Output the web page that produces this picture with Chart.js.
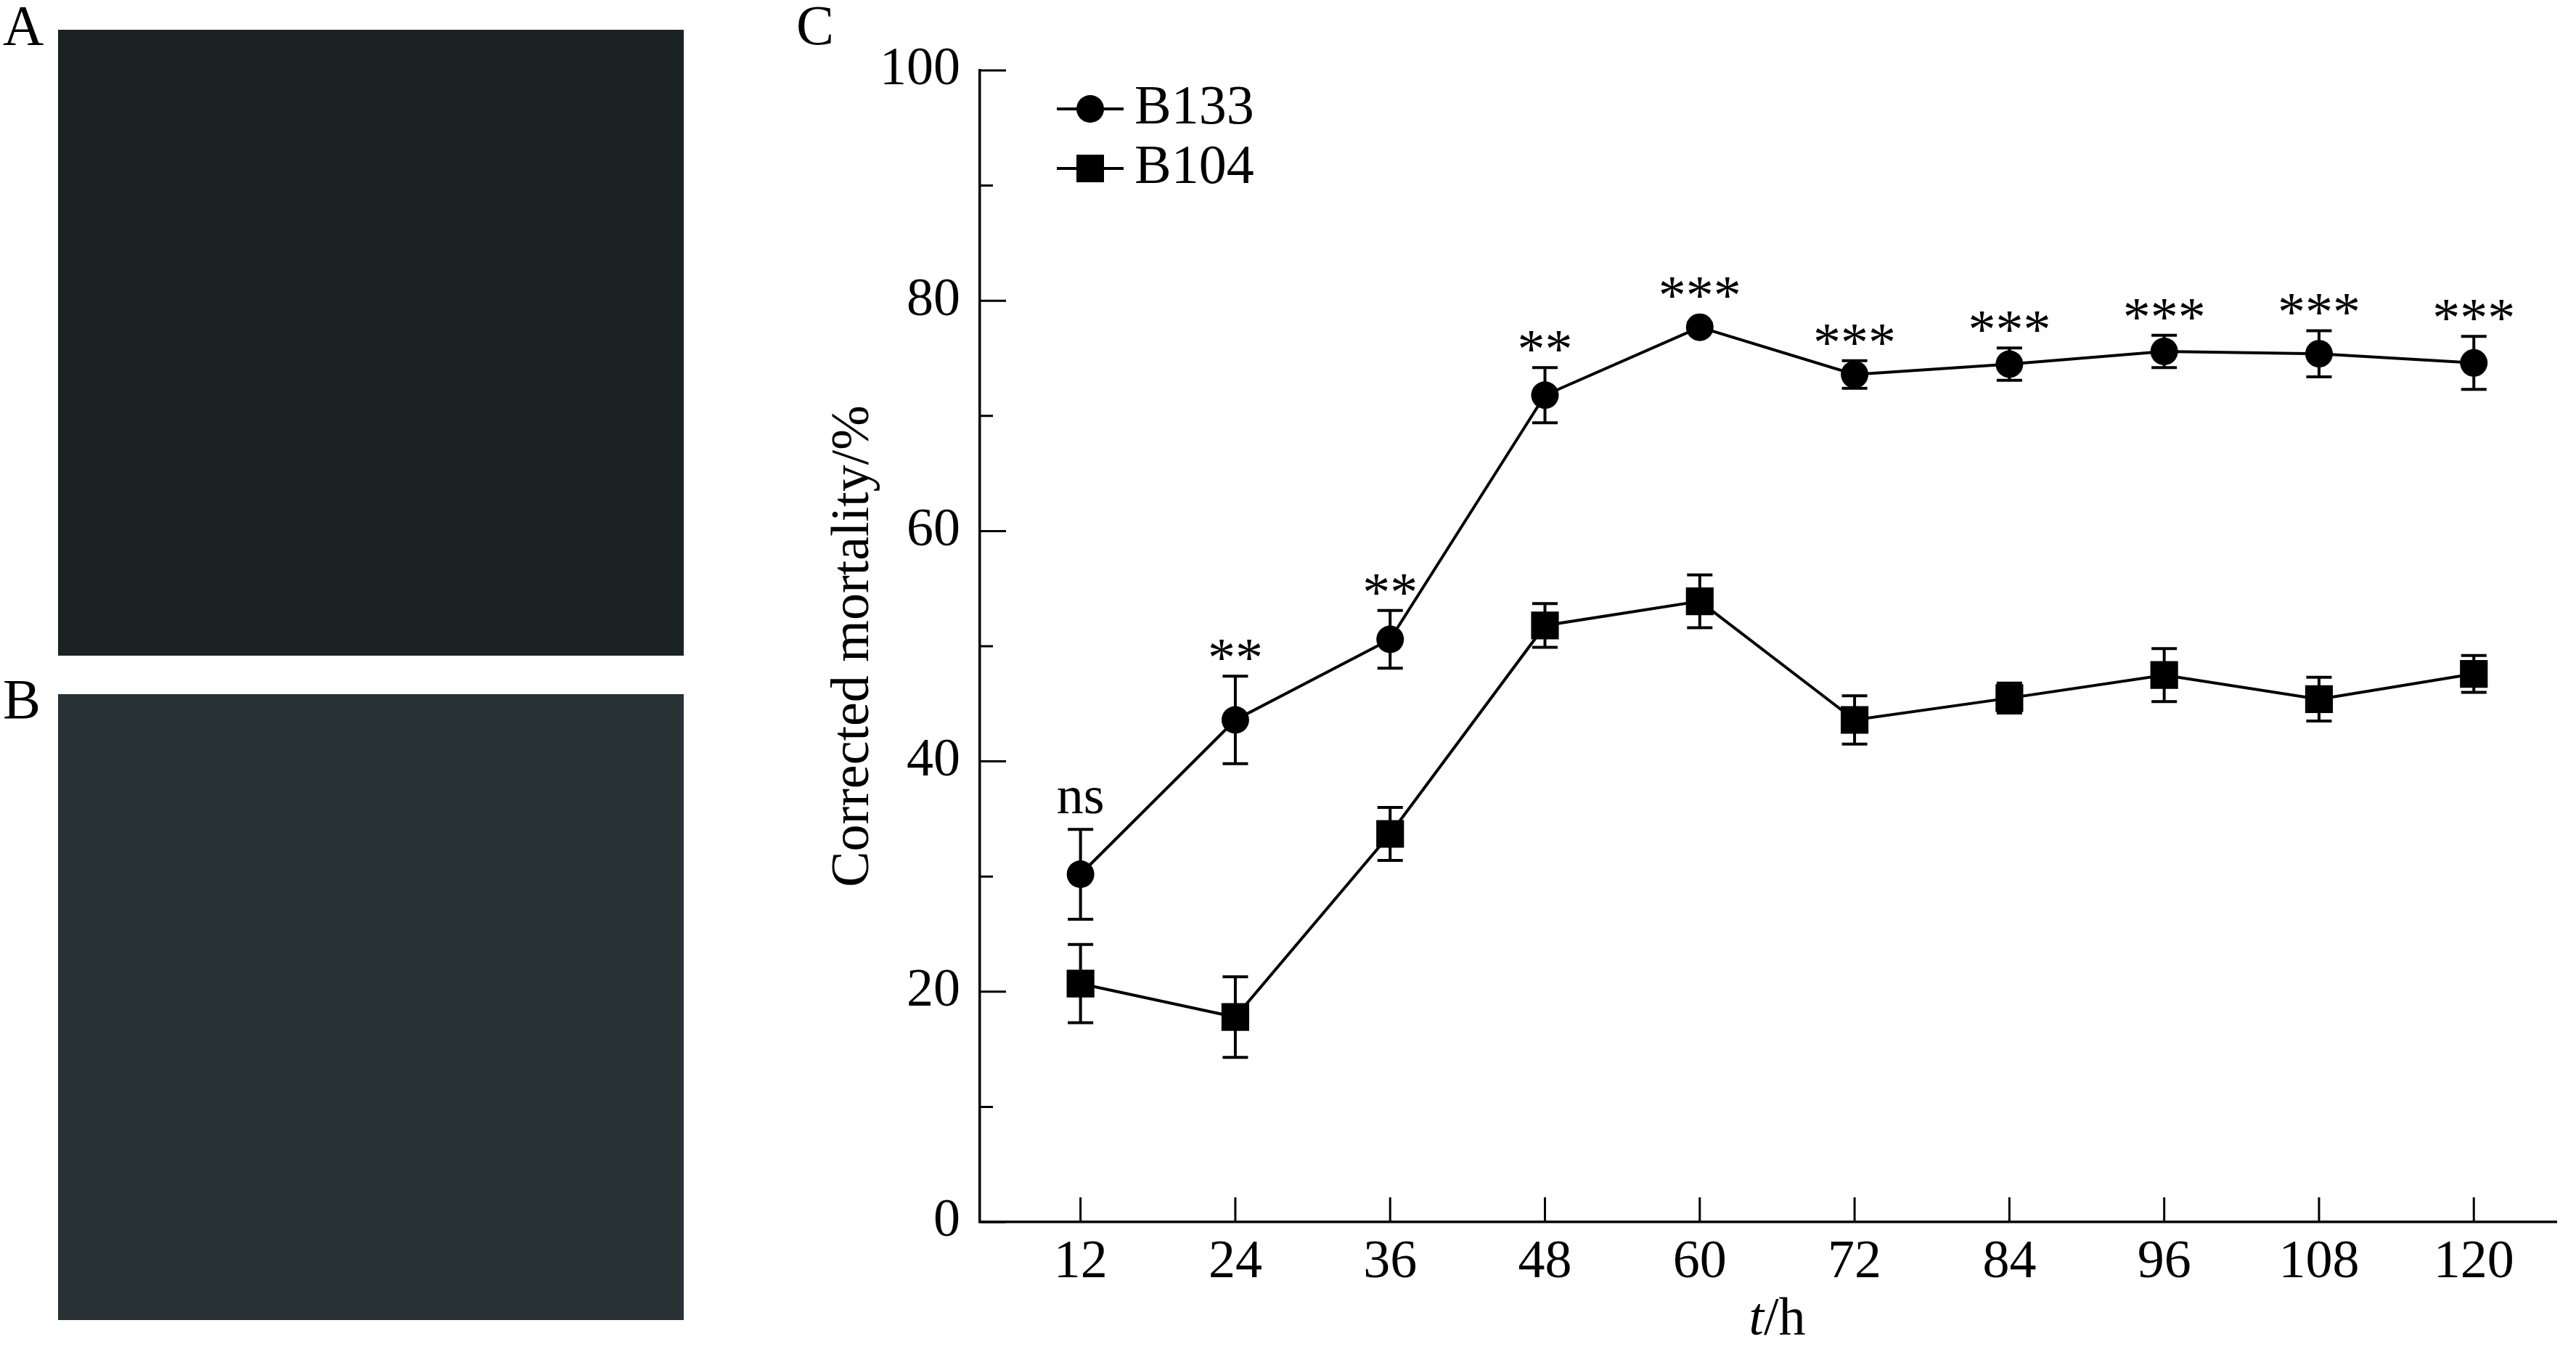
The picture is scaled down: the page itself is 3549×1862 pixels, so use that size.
<!DOCTYPE html>
<html>
<head>
<meta charset="utf-8">
<script src="https://cdn.jsdelivr.net/npm/chart.js@4.4.1/dist/chart.umd.min.js"></script>
<style>
  html, body { margin: 0; padding: 0; background: #fff; }
  body { width: 3549px; height: 1862px; position: relative; overflow: hidden; font-family: "Liberation Serif", serif; }
  .photo { position: absolute; left: 80px; width: 862px; height: 862px; }
  #photoA { top: 41px; background: #1b2224; }
  #photoB { top: 956px; background: #283134; }
  .lbl { position: absolute; font-size: 78px; line-height: 78px; color: #000; }
  #wrap { position: absolute; left: 1100px; top: 0; width: 2449px; height: 1862px; }
</style>
</head>
<body>
<div class="lbl" style="left:4px;top:-4px">A</div>
<div class="photo" id="photoA"></div>
<div class="lbl" style="left:4px;top:924px">B</div>
<div class="photo" id="photoB"></div>
<div class="lbl" style="left:1097px;top:-4px">C</div>
<div id="wrap"><canvas id="chart" width="2449" height="1862"></canvas></div>

<script>
// --- datos ---
const hours = [12, 24, 36, 48, 60, 72, 84, 96, 108, 120];
const b133 = [30.2, 43.6, 50.6, 71.8, 77.7, 73.6, 74.5, 75.6, 75.4, 74.6];
const b133Err = [3.9, 3.8, 2.5, 2.4, 0.4, 1.2, 1.4, 1.4, 2.0, 2.3];
const b104 = [20.7, 17.8, 33.7, 51.8, 53.9, 43.6, 45.5, 47.5, 45.4, 47.6];
const b104Err = [3.4, 3.5, 2.3, 1.9, 2.3, 2.1, 1.3, 2.3, 1.9, 1.6];
const signif = ['ns', '**', '**', '**', '***', '***', '***', '***', '***', '***'];
const yTicks = [0, 20, 40, 60, 80, 100];
const yMinor = [10, 30, 50, 70, 90];
const seriesNames = ['B133', 'B104'];

const FONT = '"Liberation Serif", "Times New Roman", serif';
const INK = '#000';

function pts(vals) {
  return hours.map((h, i) => ({ x: h, y: vals[i] }));
}

// barras de error (debajo de los marcadores)
const errorBars = {
  id: 'errorBars',
  beforeDatasetsDraw(chart) {
    const { ctx, scales: { x, y } } = chart;
    const sets = [[b133, b133Err], [b104, b104Err]];
    ctx.save();
    ctx.strokeStyle = INK;
    ctx.lineWidth = 4;
    sets.forEach(([vals, errs]) => {
      vals.forEach((v, i) => {
        const px = x.getPixelForValue(hours[i]);
        const top = y.getPixelForValue(v + errs[i]);
        const bot = y.getPixelForValue(v - errs[i]);
        ctx.beginPath();
        ctx.moveTo(px, top); ctx.lineTo(px, bot);
        ctx.moveTo(px - 17.5, top); ctx.lineTo(px + 17.5, top);
        ctx.moveTo(px - 17.5, bot); ctx.lineTo(px + 17.5, bot);
        ctx.stroke();
      });
    });
    ctx.restore();
  }
};

// marcas de significancia, ticks hacia adentro, leyenda y título del eje x
const extras = {
  id: 'extras',
  afterDatasetsDraw(chart) {
    const { ctx, chartArea: ca, scales: { x, y } } = chart;
    ctx.save();
    ctx.fillStyle = INK;
    ctx.textAlign = 'center';
    ctx.textBaseline = 'alphabetic';
    signif.forEach((s, i) => {
      const px = x.getPixelForValue(hours[i]);
      const topErr = y.getPixelForValue(b133[i] + b133Err[i]);
      const topMark = y.getPixelForValue(b133[i]) - 19;
      const bottom = Math.min(topErr, topMark) - 21;
      ctx.font = (s === 'ns' ? '74px ' : '76px ') + FONT;
      const m = ctx.measureText(s);
      ctx.fillText(s, px, bottom - m.actualBoundingBoxDescent);
    });

    // ticks hacia adentro
    ctx.strokeStyle = INK;
    ctx.lineWidth = 3;
    ctx.beginPath();
    yTicks.forEach(v => {
      const py = y.getPixelForValue(v);
      ctx.moveTo(ca.left, py); ctx.lineTo(ca.left + 36, py);
    });
    yMinor.forEach(v => {
      const py = y.getPixelForValue(v);
      ctx.moveTo(ca.left, py); ctx.lineTo(ca.left + 18, py);
    });
    hours.forEach(h => {
      const px = x.getPixelForValue(h);
      ctx.moveTo(px, ca.bottom); ctx.lineTo(px, ca.bottom - 34);
    });
    ctx.stroke();

    // leyenda
    const lx = ca.left + 152;
    const rows = [ca.top + 53, ca.top + 135];
    rows.forEach((ly, k) => {
      ctx.lineWidth = 4;
      ctx.beginPath();
      ctx.moveTo(ca.left + 106, ly); ctx.lineTo(ca.left + 198, ly);
      ctx.stroke();
      if (k === 0) {
        ctx.beginPath(); ctx.arc(lx, ly, 19, 0, Math.PI * 2); ctx.fill();
      } else {
        ctx.fillRect(lx - 19, ly - 19, 38, 38);
      }
      ctx.font = '76px ' + FONT;
      ctx.textAlign = 'left';
      ctx.textBaseline = 'middle';
      ctx.fillText(seriesNames[k], ca.left + 213, ly);
    });

    // t/h
    ctx.textBaseline = 'alphabetic';
    ctx.textAlign = 'left';
    const cx = x.getPixelForValue(66);
    ctx.font = 'italic 74px ' + FONT;
    const wt = ctx.measureText('t').width;
    ctx.font = '74px ' + FONT;
    const wr = ctx.measureText('/h').width;
    const x0 = cx - (wt + wr) / 2;
    ctx.font = 'italic 74px ' + FONT;
    ctx.fillText('t', x0, 1838);
    ctx.font = '74px ' + FONT;
    ctx.fillText('/h', x0 + wt, 1838);
    ctx.restore();
  }
};

new Chart(document.getElementById('chart'), {
  type: 'line',
  data: {
    datasets: [
      {
        label: seriesNames[0],
        data: pts(b133),
        borderColor: INK,
        borderWidth: 4,
        pointStyle: 'circle',
        pointRadius: 19,
        pointBackgroundColor: INK,
        pointBorderWidth: 0,
        tension: 0
      },
      {
        label: seriesNames[1],
        data: pts(b104),
        borderColor: INK,
        borderWidth: 4,
        pointStyle: 'rect',
        pointRadius: 27,
        pointBackgroundColor: INK,
        pointBorderWidth: 0,
        tension: 0
      }
    ]
  },
  options: {
    responsive: false,
    animation: false,
    layout: { padding: { top: 97, right: 0, bottom: 0, left: 0 } },
    plugins: { legend: { display: false }, tooltip: { enabled: false } },
    scales: {
      x: {
        type: 'linear',
        min: 4.2,
        max: 126.4,
        afterBuildTicks: s => { s.ticks = hours.map(v => ({ value: v })); },
        afterFit: s => { s.height = 179; },
        grid: { drawOnChartArea: false, drawTicks: false },
        border: { display: true, color: INK, width: 3.5 },
        ticks: { color: INK, padding: 12, maxRotation: 0, autoSkip: false, font: { family: FONT, size: 74 } }
      },
      y: {
        min: 0,
        max: 100,
        afterBuildTicks: s => { s.ticks = yTicks.map(v => ({ value: v })); },
        afterFit: s => { s.width = 250; },
        grid: { drawOnChartArea: false, drawTicks: false },
        border: { display: true, color: INK, width: 3.5 },
        ticks: { color: INK, padding: 27, font: { family: FONT, size: 74 } },
        title: {
          display: true,
          text: 'Corrected mortality/%',
          color: INK,
          padding: { top: 32, bottom: 0 },
          font: { family: FONT, size: 74 }
        }
      }
    }
  },
  plugins: [errorBars, extras]
});
</script>
</body>
</html>
